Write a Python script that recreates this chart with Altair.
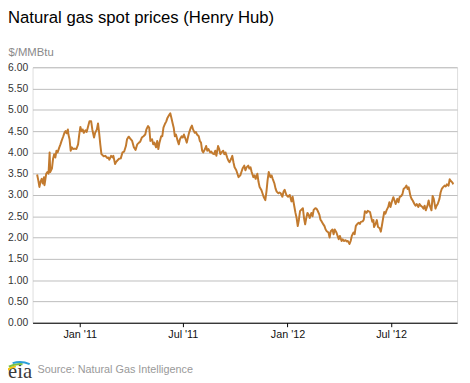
import altair as alt
import pandas as pd

dates = [
    "2010-10-18", "2010-10-20", "2010-10-22", "2010-10-24", "2010-10-26", "2010-10-28", "2010-10-30", "2010-10-31",
    "2010-11-03", "2010-11-05", "2010-11-07", "2010-11-09", "2010-11-10", "2010-11-13", "2010-11-15", "2010-11-17",
    "2010-11-19", "2010-11-21", "2010-11-23", "2010-11-26", "2010-11-28", "2010-11-30", "2010-12-03", "2010-12-05",
    "2010-12-07", "2010-12-09", "2010-12-11", "2010-12-12", "2010-12-14", "2010-12-16", "2010-12-18", "2010-12-20",
    "2010-12-23", "2010-12-26", "2010-12-29", "2010-12-31", "2011-01-02", "2011-01-04", "2011-01-06", "2011-01-08",
    "2011-01-11", "2011-01-13", "2011-01-15", "2011-01-18", "2011-01-21", "2011-01-23", "2011-01-26", "2011-01-28",
    "2011-01-31", "2011-02-02", "2011-02-04", "2011-02-06", "2011-02-08", "2011-02-12", "2011-02-15", "2011-02-18",
    "2011-02-20", "2011-02-22", "2011-02-25", "2011-02-28", "2011-03-01", "2011-03-04", "2011-03-06", "2011-03-08",
    "2011-03-11", "2011-03-14", "2011-03-17", "2011-03-20", "2011-03-23", "2011-03-25", "2011-03-28", "2011-03-31",
    "2011-04-03", "2011-04-06", "2011-04-09", "2011-04-12", "2011-04-15", "2011-04-17", "2011-04-20", "2011-04-23",
    "2011-04-26", "2011-04-28", "2011-05-01", "2011-05-03", "2011-05-05", "2011-05-08", "2011-05-10", "2011-05-12",
    "2011-05-15", "2011-05-17", "2011-05-19", "2011-05-21", "2011-05-24", "2011-05-26", "2011-05-28", "2011-05-31",
    "2011-06-02", "2011-06-04", "2011-06-07", "2011-06-09", "2011-06-11", "2011-06-13", "2011-06-15", "2011-06-17",
    "2011-06-19", "2011-06-22", "2011-06-24", "2011-06-26", "2011-06-29", "2011-07-01", "2011-07-03", "2011-07-06",
    "2011-07-08", "2011-07-10", "2011-07-12", "2011-07-15", "2011-07-17", "2011-07-19", "2011-07-22", "2011-07-24",
    "2011-07-26", "2011-07-29", "2011-07-31", "2011-08-02", "2011-08-04", "2011-08-06", "2011-08-09", "2011-08-11",
    "2011-08-13", "2011-08-15", "2011-08-18", "2011-08-20", "2011-08-22", "2011-08-25", "2011-08-27", "2011-08-29",
    "2011-09-01", "2011-09-03", "2011-09-05", "2011-09-07", "2011-09-10", "2011-09-12", "2011-09-14", "2011-09-17",
    "2011-09-19", "2011-09-21", "2011-09-24", "2011-09-26", "2011-09-28", "2011-09-30", "2011-10-03", "2011-10-05",
    "2011-10-07", "2011-10-10", "2011-10-12", "2011-10-14", "2011-10-17", "2011-10-19", "2011-10-21", "2011-10-24",
    "2011-10-26", "2011-10-28", "2011-10-30", "2011-11-02", "2011-11-04", "2011-11-06", "2011-11-09", "2011-11-11",
    "2011-11-13", "2011-11-16", "2011-11-18", "2011-11-20", "2011-11-23", "2011-11-25", "2011-11-27", "2011-11-29",
    "2011-12-02", "2011-12-04", "2011-12-06", "2011-12-09", "2011-12-11", "2011-12-13", "2011-12-16", "2011-12-18",
    "2011-12-20", "2011-12-23", "2011-12-25", "2011-12-27", "2011-12-30", "2012-01-02", "2012-01-05", "2012-01-08",
    "2012-01-10", "2012-01-13", "2012-01-15", "2012-01-17", "2012-01-19", "2012-01-21", "2012-01-23", "2012-01-25",
    "2012-01-28", "2012-01-30", "2012-02-01", "2012-02-03", "2012-02-05", "2012-02-07", "2012-02-09", "2012-02-12",
    "2012-02-14", "2012-02-16", "2012-02-19", "2012-02-21", "2012-02-23", "2012-02-26", "2012-02-28", "2012-03-01",
    "2012-03-04", "2012-03-06", "2012-03-08", "2012-03-10", "2012-03-13", "2012-03-15", "2012-03-17", "2012-03-20",
    "2012-03-22", "2012-03-24", "2012-03-27", "2012-03-29", "2012-03-31", "2012-04-02", "2012-04-05", "2012-04-07",
    "2012-04-09", "2012-04-12", "2012-04-14", "2012-04-16", "2012-04-19", "2012-04-21", "2012-04-23", "2012-04-26",
    "2012-04-28", "2012-04-30", "2012-05-02", "2012-05-05", "2012-05-07", "2012-05-09", "2012-05-12", "2012-05-14",
    "2012-05-16", "2012-05-19", "2012-05-21", "2012-05-25", "2012-05-27", "2012-05-29", "2012-05-31", "2012-06-01",
    "2012-06-04", "2012-06-06", "2012-06-08", "2012-06-11", "2012-06-13", "2012-06-15", "2012-06-17", "2012-06-19",
    "2012-06-21", "2012-06-23", "2012-06-26", "2012-06-28", "2012-06-30", "2012-07-03", "2012-07-05", "2012-07-07",
    "2012-07-09", "2012-07-12", "2012-07-14", "2012-07-16", "2012-07-19", "2012-07-21", "2012-07-23", "2012-07-26",
    "2012-07-28", "2012-07-30", "2012-08-01", "2012-08-04", "2012-08-06", "2012-08-08", "2012-08-11", "2012-08-13",
    "2012-08-15", "2012-08-18", "2012-08-20", "2012-08-22", "2012-08-25", "2012-08-27", "2012-08-29", "2012-08-31",
    "2012-09-03", "2012-09-05", "2012-09-07", "2012-09-10", "2012-09-12", "2012-09-14", "2012-09-17", "2012-09-19",
    "2012-09-21", "2012-09-24", "2012-09-26", "2012-09-28", "2012-09-30", "2012-10-03", "2012-10-05", "2012-10-07",
    "2012-10-10", "2012-10-12", "2012-10-14", "2012-10-17", "2012-10-18",
]

prices = [
    3.48, 3.35, 3.19, 3.31, 3.38, 3.27, 3.42, 3.23,
    3.50, 3.54, 3.50, 4.00, 3.54, 3.62, 3.85, 3.96,
    3.88, 4.04, 4.00, 4.12, 4.19, 4.27, 4.38, 4.46,
    4.50, 4.45, 4.54, 4.42, 4.31, 4.04, 4.12, 4.08,
    4.09, 4.08, 4.19, 4.42, 4.60, 4.50, 4.54, 4.46,
    4.52, 4.48, 4.58, 4.73, 4.73, 4.54, 4.35, 4.46,
    4.54, 4.68, 4.46, 4.19, 3.96, 3.91, 3.92, 3.87,
    3.88, 3.83, 3.92, 3.88, 3.92, 3.73, 3.78, 3.81,
    3.85, 3.86, 4.00, 4.02, 4.15, 4.31, 4.37, 4.32,
    4.27, 4.12, 4.06, 4.19, 4.23, 4.25, 4.35, 4.38,
    4.42, 4.54, 4.62, 4.58, 4.27, 4.31, 4.19, 4.23,
    4.12, 4.27, 4.08, 4.23, 4.38, 4.38, 4.58, 4.68,
    4.73, 4.81, 4.88, 4.92, 4.81, 4.69, 4.58, 4.38,
    4.42, 4.27, 4.19, 4.31, 4.38, 4.35, 4.42, 4.31,
    4.23, 4.35, 4.46, 4.58, 4.63, 4.54, 4.46, 4.48,
    4.42, 4.38, 4.27, 4.23, 4.04, 4.00, 4.08, 4.15,
    4.04, 4.08, 4.00, 4.02, 3.98, 3.96, 4.04, 3.92,
    4.15, 4.08, 3.96, 4.00, 4.04, 3.96, 4.00, 3.88,
    3.81, 3.77, 3.85, 3.92, 3.77, 3.65, 3.58, 3.50,
    3.42, 3.46, 3.54, 3.62, 3.69, 3.58, 3.65, 3.69,
    3.62, 3.65, 3.54, 3.42, 3.46, 3.38, 3.50, 3.31,
    3.19, 3.12, 3.04, 2.96, 2.88, 3.08, 3.35, 3.54,
    3.42, 3.46, 3.38, 3.27, 3.15, 3.08, 3.04, 3.06,
    3.04, 2.96, 3.08, 3.12, 3.00, 2.96, 3.00, 2.85,
    2.96, 2.73, 2.58, 2.46, 2.27, 2.42, 2.62, 2.65,
    2.69, 2.46, 2.31, 2.46, 2.58, 2.54, 2.46, 2.58,
    2.50, 2.65, 2.69, 2.68, 2.63, 2.54, 2.42, 2.38,
    2.31, 2.27, 2.19, 2.15, 2.12, 2.00, 2.15, 2.19,
    2.08, 2.19, 2.12, 2.04, 1.96, 2.04, 1.92, 1.96,
    1.92, 1.94, 1.91, 1.92, 1.85, 1.92, 2.04, 2.12,
    2.08, 2.27, 2.31, 2.35, 2.32, 2.37, 2.38, 2.42,
    2.62, 2.58, 2.63, 2.60, 2.48, 2.37, 2.41, 2.25,
    2.33, 2.41, 2.25, 2.22, 2.14, 2.29, 2.45, 2.60,
    2.56, 2.64, 2.72, 2.83, 2.72, 2.87, 2.95, 2.87,
    2.79, 2.91, 2.83, 2.95, 2.98, 3.02, 3.14, 3.18,
    3.22, 3.14, 3.18, 2.98, 2.91, 2.87, 2.79, 2.75,
    2.79, 2.72, 2.79, 2.75, 2.72, 2.68, 2.75, 2.64,
    2.75, 2.87, 2.75, 2.64, 2.98, 2.91, 2.68, 2.75,
    2.79, 2.91, 3.06, 3.14, 3.18, 3.22, 3.20, 3.25,
    3.22, 3.37, 3.33, 3.29, 3.25,
]

y_ticks = [0, 0.5, 1, 1.5, 2, 2.5, 3, 3.5, 4, 4.5, 5, 5.5, 6]
x_ticks = [(2011, 1), (2011, 7), (2012, 1), (2012, 7)]
x_domain = [(2010, 10, 10), (2012, 10, 25)]

title_text = "Natural gas spot prices (Henry Hub)"
unit_text = "$/MMBtu"
source_text = "Source: Natural Gas Intelligence"

FONT = "Liberation Sans"
LINE_COLOR = "#c27a2e"

df = pd.DataFrame({"date": dates, "price": prices})

x_enc = alt.X(
    "date:T",
    scale=alt.Scale(
        type="utc",
        domain=[alt.DateTime(year=a, month=b, date=c, utc=True) for a, b, c in x_domain],
    ),
    axis=alt.Axis(
        values=[alt.DateTime(year=a, month=b, date=1, utc=True) for a, b in x_ticks],
        labelExpr="utcFormat(datum.value, \"%b '%y\")",
        grid=False,
        domainColor="#000000",
        domainWidth=1,
        tickColor="#000000",
        tickSize=4,
        labelPadding=2,
        labelFontSize=11,
        labelColor="#111111",
        labelFont=FONT,
        title=None,
    ),
)

y_enc = alt.Y(
    "price:Q",
    scale=alt.Scale(domain=[0, 6], nice=False),
    axis=alt.Axis(
        values=y_ticks,
        format=".2f",
        grid=True,
        gridColor="#bdbdbd",
        gridWidth=1,
        domain=False,
        ticks=False,
        labelPadding=5,
        labelFontSize=10.5,
        labelColor="#333333",
        labelFont=FONT,
        title=unit_text,
        titleAngle=0,
        titleX=-25,
        titleY=-12,
        titleAlign="left",
        titleBaseline="alphabetic",
        titleFontSize=11.5,
        titleFontWeight="normal",
        titleColor="#8a8a8a",
        titleFont=FONT,
    ),
)

line = alt.Chart(df).mark_line(color=LINE_COLOR, strokeWidth=2, strokeJoin="round").encode(
    x=x_enc, y=y_enc
)

source = alt.Chart(pd.DataFrame({"t": [source_text]})).mark_text(
    align="left", baseline="alphabetic", fontSize=11, color="#999999", font=FONT
).encode(text="t:N", x=alt.value(5), y=alt.value(311))

logo_txt = alt.Chart(pd.DataFrame({"t": ["eia"]})).mark_text(
    align="left", baseline="alphabetic", fontSize=21, color="#3a3a3a", font="Liberation Serif"
).encode(text="t:N", x=alt.value(-25), y=alt.value(316))

arcs = []
for col, r1, r2, t1, t2 in [
    ("#f4c20d", 21, 23, 5.62, 6.10),
    ("#7cc242", 23, 25, 5.80, 6.40),
    ("#2a9fd8", 25, 27, 6.00, 6.68),
]:
    arcs.append(
        alt.Chart(pd.DataFrame({"k": [col]})).mark_arc(
            radius=r1, radius2=r2, theta=t1, theta2=t2, color=col
        ).encode(x=alt.value(-13), y=alt.value(326))
    )

chart = alt.layer(line, source, logo_txt, *arcs).properties(
    width=432,
    height=260,
    title=alt.TitleParams(
        title_text,
        anchor="start",
        frame="group",
        dx=-25,
        offset=20,
        fontSize=17,
        fontWeight="normal",
        color="#000000",
        font=FONT,
    ),
    autosize=alt.AutoSizeParams(type="none"),
    padding={"left": 25, "top": 57, "right": 5, "bottom": 58},
).configure_view(stroke=None).configure(background="#ffffff")

chart.save("out.html", embed_options={"renderer": "svg", "actions": False})
